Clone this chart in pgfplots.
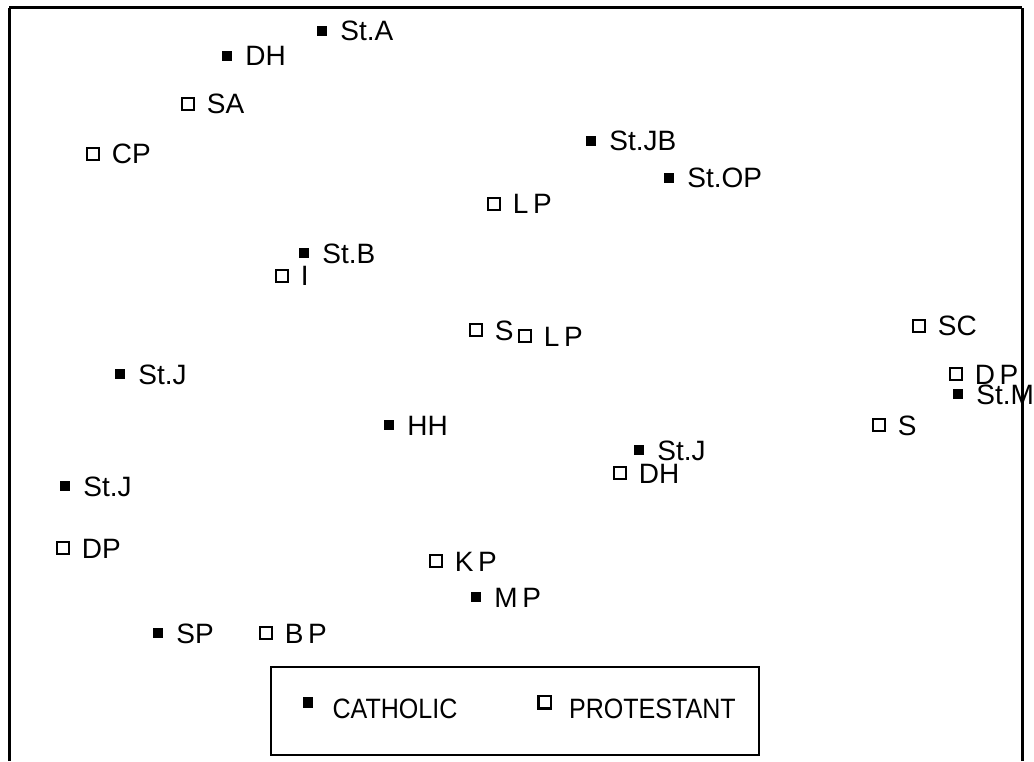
\documentclass[border=0pt]{standalone}
\usepackage{pgfplots}
\usepackage{pgfplotstable}
\usepackage{fontspec}
\setmainfont{Liberation Sans}
\pgfplotsset{compat=1.18}

% positions (x right, y up; 0..1034 x 0..761)
\pgfplotstableread{
x y name
322 730 St.A
227 705 DH
591 620 St.JB
669 583 St.OP
304 508 St.B
120 387 St.J
389 336 HH
639 311 St.J
65 275 St.J
476 164 M\,P
158 128 SP
958 367 St.M
}\catholic

\pgfplotstableread{
x y name
188 657 SA
93 607 CP
494 557 L\,P
282 485 I
476 431 S
525 425 L\,P
919 435 SC
956 387 D\,P
879 336 S
620 288 DH
63 213 DP
436 200 K\,P
266 128 B\,P
}\protestant

\begin{document}
\begin{tikzpicture}
\begin{axis}[
  scale only axis,
  width=303.9pt, height=225.9pt,
  xmin=9, xmax=1022, ymin=0, ymax=753,
  axis x line*=top, axis y line*=box,
  axis line style={line width=0.9pt},
  xtick=\empty, ytick=\empty,
  clip=false,
  font=\fontsize{8.4}{10}\selectfont,
  nodes near coords,
  point meta=explicit symbolic,
  every node near coord/.append style={anchor=base west, inner sep=0pt,
    xshift=5.3pt, yshift=-3pt, font=\fontsize{8.4}{10}\selectfont},
  legend columns=2,
  legend style={at={(axis cs:515,50)}, anchor=center, draw=black,
    line width=0.6pt, inner xsep=5pt, inner ysep=7.5pt,
    font=\fontsize{8.4}{10}\selectfont},
  /tikz/every even column/.append style={column sep=18pt},
  legend image code/.code={%
    \path[draw=none] (-6.2pt,0) -- (5.3pt,0);
    \draw[#1] plot coordinates {(0pt,2.6pt)};},
]
\addplot[only marks, mark=square*, mark size=1.25pt, black]
  table[x=x, y=y, meta=name] {\catholic};
\addlegendentry{\scalebox{0.895}[1]{CATHOLIC}}
\addplot[only marks, mark=square, mark size=1.85pt, black,
  mark options={line width=0.7pt}]
  table[x=x, y=y, meta=name] {\protestant};
\addlegendentry{\scalebox{0.895}[1]{PROTESTANT}}
\coordinate (bl) at (axis cs:0,0);
\coordinate (tr) at (axis cs:1034,761);
\end{axis}
\pgfresetboundingbox
\path (bl) rectangle (tr);
\end{tikzpicture}
\end{document}
